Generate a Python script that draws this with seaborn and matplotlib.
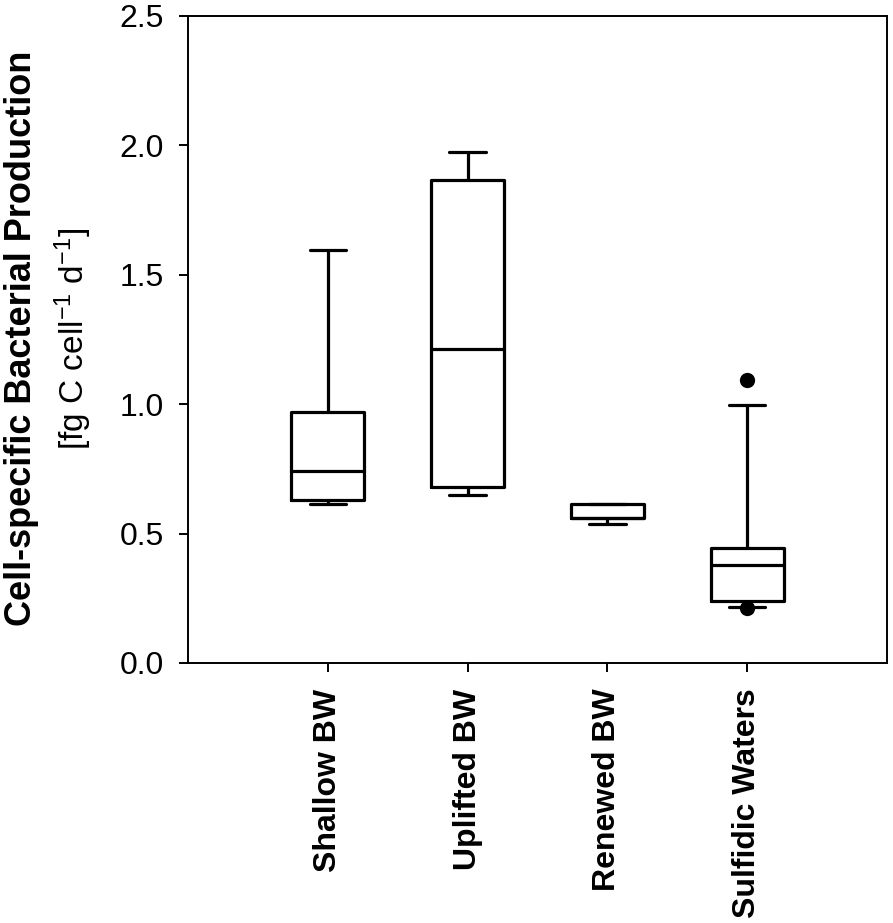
import seaborn as sns
import numpy as np
import matplotlib.pyplot as plt
import pandas as pd

# groups along the x axis
categories = ["Shallow BW", "Uplifted BW", "Renewed BW", "Sulfidic Waters"]

# per group: lower whisker, 25th pct, median, 75th pct, upper whisker
shallow = [0.615, 0.629, 0.741, 0.969, 1.595]
uplifted = [0.649, 0.681, 1.213, 1.865, 1.974]
renewed = [0.537, 0.561, 0.561, 0.616, 0.616]
sulfidic = [0.215, 0.241, 0.378, 0.443, 0.996]

# points drawn beyond the whiskers
outlier_group = ["Sulfidic Waters", "Sulfidic Waters"]
outlier_value = [1.095, 0.212]

y_ticks = [0.0, 0.5, 1.0, 1.5, 2.0, 2.5]

df = pd.DataFrame({
    "group": np.repeat(categories, 5),
    "value": shallow + uplifted + renewed + sulfidic,
})
out = pd.DataFrame({"group": outlier_group, "value": outlier_value})

sns.set_style("ticks")
plt.rcParams["font.family"] = ["Liberation Sans", "DejaVu Sans"]
plt.rcParams["mathtext.fontset"] = "custom"
plt.rcParams["mathtext.rm"] = "Liberation Sans"
plt.rcParams["mathtext.it"] = "Liberation Sans:italic"
plt.rcParams["text.color"] = "black"
plt.rcParams["xtick.color"] = "black"
plt.rcParams["ytick.color"] = "black"
plt.rcParams["xtick.labelcolor"] = "black"
plt.rcParams["ytick.labelcolor"] = "black"

fig = plt.figure(figsize=(8.93, 9.23), dpi=100)
ax = fig.add_axes([0.2105, 0.2817, 0.7828, 0.701])

sns.boxplot(
    data=df, x="group", y="value", order=categories,
    whis=(0, 100), width=0.52, fill=False, color="black",
    linewidth=2.3, showfliers=False, ax=ax,
)
sns.stripplot(
    data=out, x="group", y="value", order=categories,
    jitter=False, color="black", size=11, ax=ax,
)

ax.set_xlim(-1, 4)
ax.set_ylim(0, 2.5)
ax.set_yticks(y_ticks)
ax.set_yticklabels([f"{t:.1f}" for t in y_ticks], fontsize=23)
ax.set_xlabel("")
ax.set_ylabel("")
ax.tick_params(axis="y", length=6.5, width=1.4, pad=11, colors="black")
ax.tick_params(axis="x", length=6.5, width=1.4, pad=12, colors="black")
for lab in ax.get_xticklabels():
    lab.set_rotation(90)
    lab.set_fontsize(23)
    lab.set_fontweight("bold")
    lab.set_va("top")
    lab.set_ha("center")

for side in ["left", "right", "top", "bottom"]:
    ax.spines[side].set_visible(True)
    ax.spines[side].set_linewidth(1.4)
    ax.spines[side].set_color("black")

fig.text(22 / 893, 0.633, "Cell-specific Bacterial Production",
         rotation=90, ha="center", va="center", fontsize=26, fontweight="bold")
fig.text(73 / 893, 0.633, "[fg C cell$^{-1}$ d$^{-1}$]",
         rotation=90, ha="center", va="center", fontsize=24)

fig.savefig("out.png", dpi=100)
